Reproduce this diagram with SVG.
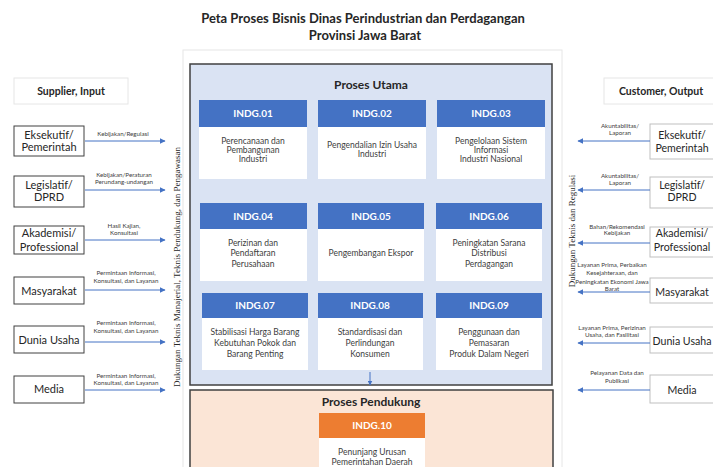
<svg xmlns="http://www.w3.org/2000/svg" width="713" height="467" viewBox="0 0 713 467">
<defs>
<marker id="ah" viewBox="0 0 10 10" refX="9" refY="5" markerWidth="6" markerHeight="6" markerUnits="userSpaceOnUse" orient="auto">
<path d="M0,0 L10,5 L0,10 z" fill="#4472c4"/>
</marker>
<marker id="ahs" viewBox="0 0 10 10" refX="9" refY="5" markerWidth="5" markerHeight="5" markerUnits="userSpaceOnUse" orient="auto">
<path d="M0,0 L10,5 L0,10 z" fill="#4472c4"/>
</marker>
</defs>
<style>
text{font-family:Lato,"Liberation Sans",sans-serif;text-anchor:middle}
.title{font-size:13px;font-weight:bold;fill:#262626}
.hdr{font-size:10.5px;font-weight:bold;fill:#262626}
.ptitle{font-size:12px;font-weight:bold;fill:#262626}
.code{font-size:10px;font-weight:bold;fill:#ffffff}
.body{font-size:8.5px;fill:#404040}
.ent{font-size:11px;fill:#262626}
.rent{font-size:10.6px;fill:#262626}
.lbl{font-size:6.2px;fill:#404040}
.vert{font-family:"Liberation Serif",serif;font-size:9px;fill:#262626}
.bhead{fill:#4472c4}
.obhead{fill:#ed7d31}
.bbody{fill:#ffffff}
.lbox{fill:#ffffff;stroke:#404040;stroke-width:1}
.rbox{fill:#ffffff;stroke:#bfbfbf;stroke-width:1}
.faint{fill:#ffffff;stroke:#e6e6e6;stroke-width:1}
.arr{stroke:#4472c4;stroke-width:1;fill:none;marker-end:url(#ah)}
</style>
<rect width="713" height="467" fill="#ffffff"/>
<text class="title" x="363" y="23">Peta Proses Bisnis Dinas Perindustrian dan Perdagangan</text>
<text class="title" x="365" y="40">Provinsi Jawa Barat</text>
<rect class="faint" x="183" y="50" width="379" height="430"/>
<g id="supplier-header"><rect class="faint" x="14" y="78" width="114" height="26"/><text class="hdr" x="71" y="95">Supplier, Input</text></g>
<g id="customer-header"><rect class="faint" x="604" y="78" width="116" height="26"/><text class="hdr" x="661" y="95">Customer, Output</text></g>
<g id="proses-utama">
<rect x="190" y="64" width="362" height="321" fill="#dae3f3" stroke="#404040" stroke-width="1.5"/>
<text class="ptitle" x="371" y="89">Proses Utama</text>
</g>
<g id="indg01"><rect class="bhead" x="199" y="100" width="108" height="27"/><rect class="bbody" x="199" y="127" width="108" height="52"/><text class="code" x="253" y="117">INDG.01</text><text class="body" x="253" y="144">Perencanaan dan</text><text class="body" x="253" y="153">Pembangunan</text><text class="body" x="253" y="162">Industri</text></g>
<g id="indg02"><rect class="bhead" x="318" y="100" width="108" height="27"/><rect class="bbody" x="318" y="127" width="108" height="52"/><text class="code" x="372" y="117">INDG.02</text><text class="body" x="372" y="148">Pengendalian Izin Usaha</text><text class="body" x="372" y="157">Industri</text></g>
<g id="indg03"><rect class="bhead" x="437" y="100" width="108" height="27"/><rect class="bbody" x="437" y="127" width="108" height="52"/><text class="code" x="491" y="117">INDG.03</text><text class="body" x="491" y="144">Pengelolaan Sistem</text><text class="body" x="491" y="153">Informasi</text><text class="body" x="491" y="162">Industri Nasional</text></g>
<g id="indg04"><rect class="bhead" x="200" y="203" width="107" height="26"/><rect class="bbody" x="200" y="229" width="107" height="52"/><text class="code" x="253" y="220">INDG.04</text><text class="body" x="253" y="246">Perizinan dan</text><text class="body" x="253" y="256">Pendaftaran</text><text class="body" x="253" y="267">Perusahaan</text></g>
<g id="indg05"><rect class="bhead" x="318" y="203" width="106" height="26"/><rect class="bbody" x="318" y="229" width="106" height="52"/><text class="code" x="371" y="220">INDG.05</text><text class="body" x="371" y="256">Pengembangan Ekspor</text></g>
<g id="indg06"><rect class="bhead" x="436" y="203" width="106" height="26"/><rect class="bbody" x="436" y="229" width="106" height="52"/><text class="code" x="489" y="220">INDG.06</text><text class="body" x="489" y="246">Peningkatan Sarana</text><text class="body" x="489" y="256">Distribusi</text><text class="body" x="489" y="267">Perdagangan</text></g>
<g id="indg07"><rect class="bhead" x="202" y="293" width="106" height="25"/><rect class="bbody" x="202" y="318" width="106" height="52"/><text class="code" x="255" y="309">INDG.07</text><text class="body" x="255" y="335">Stabilisasi Harga Barang</text><text class="body" x="255" y="346">Kebutuhan Pokok dan</text><text class="body" x="255" y="357">Barang Penting</text></g>
<g id="indg08"><rect class="bhead" x="318" y="293" width="105" height="25"/><rect class="bbody" x="318" y="318" width="105" height="52"/><text class="code" x="370" y="309">INDG.08</text><text class="body" x="370" y="335">Standardisasi dan</text><text class="body" x="370" y="346">Perlindungan</text><text class="body" x="370" y="357">Konsumen</text></g>
<g id="indg09"><rect class="bhead" x="436" y="293" width="106" height="25"/><rect class="bbody" x="436" y="318" width="106" height="52"/><text class="code" x="489" y="309">INDG.09</text><text class="body" x="489" y="335">Penggunaan dan</text><text class="body" x="489" y="346">Pemasaran</text><text class="body" x="489" y="357">Produk Dalam Negeri</text></g>
<g id="proses-pendukung">
<rect x="190" y="390" width="363" height="90" fill="#fbe5d6" stroke="#404040" stroke-width="1.5"/>
<text class="ptitle" x="371" y="406">Proses Pendukung</text>
</g>
<g id="indg10"><rect class="obhead" x="319" y="413" width="106" height="25"/><rect class="bbody" x="319" y="438" width="106" height="40"/><text class="code" x="372" y="429">INDG.10</text><text class="body" x="372" y="455">Penunjang Urusan</text><text class="body" x="372" y="465">Pemerintahan Daerah</text></g>
<g id="in-eksekutif"><rect class="lbox" x="14" y="126" width="70" height="30"/><text class="ent" x="49" y="139">Eksekutif/</text><text class="ent" x="49" y="151">Pemerintah</text></g>
<g id="in-legislatif"><rect class="lbox" x="14" y="176" width="70" height="31"/><text class="ent" x="49" y="189">Legislatif/</text><text class="ent" x="49" y="201">DPRD</text></g>
<g id="in-akademisi"><rect class="lbox" x="14" y="226" width="70" height="28"/><text class="ent" x="49" y="237">Akademisi/</text><text class="ent" x="49" y="251">Professional</text></g>
<g id="in-masyarakat"><rect class="lbox" x="14" y="277" width="70" height="27"/><text class="ent" x="49" y="295">Masyarakat</text></g>
<g id="in-dunia-usaha"><rect class="lbox" x="14" y="326" width="70" height="27"/><text class="ent" x="49" y="344">Dunia Usaha</text></g>
<g id="in-media"><rect class="lbox" x="14" y="376" width="70" height="27"/><text class="ent" x="49" y="393">Media</text></g>
<g id="out-eksekutif"><rect class="rbox" x="650" y="124" width="70" height="35"/><text class="rent" x="682" y="139">Eksekutif/</text><text class="rent" x="682" y="152">Pemerintah</text></g>
<g id="out-legislatif"><rect class="rbox" x="650" y="177" width="70" height="31"/><text class="rent" x="682" y="189">Legislatif/</text><text class="rent" x="682" y="201">DPRD</text></g>
<g id="out-akademisi"><rect class="rbox" x="650" y="227" width="70" height="30"/><text class="rent" x="682" y="237">Akademisi/</text><text class="rent" x="682" y="251">Professional</text></g>
<g id="out-masyarakat"><rect class="rbox" x="650" y="278" width="70" height="25"/><text class="rent" x="682" y="296">Masyarakat</text></g>
<g id="out-dunia-usaha"><rect class="rbox" x="650" y="327" width="70" height="26"/><text class="rent" x="682" y="345">Dunia Usaha</text></g>
<g id="out-media"><rect class="rbox" x="650" y="375" width="70" height="28"/><text class="rent" x="682" y="394">Media</text></g>
<g id="side-labels">
<text class="vert" transform="translate(180,267) rotate(-90)">Dukungan Teknis Manajerial, Teknis Pendukung, dan Pengawasan</text>
<text class="vert" transform="translate(575,231) rotate(-90)">Dukungan Teknis dan Regulasi</text>
</g>
<g id="connectors">
<line class="arr" x1="85" y1="141" x2="165" y2="141"/>
<line class="arr" x1="85" y1="190" x2="165" y2="190"/>
<line class="arr" x1="85" y1="240" x2="165" y2="240"/>
<line class="arr" x1="85" y1="290" x2="165" y2="290"/>
<line class="arr" x1="85" y1="342" x2="165" y2="342"/>
<line class="arr" x1="85" y1="390" x2="165" y2="390"/>
<line class="arr" x1="650" y1="141" x2="578" y2="141"/>
<line class="arr" x1="650" y1="190" x2="578" y2="190"/>
<line class="arr" x1="650" y1="243" x2="578" y2="243"/>
<line class="arr" x1="650" y1="292" x2="578" y2="292"/>
<line class="arr" x1="650" y1="343" x2="578" y2="343"/>
<line class="arr" x1="650" y1="390" x2="578" y2="390"/>
<line x1="370" y1="372" x2="370" y2="385" stroke="#4472c4" stroke-width="1" marker-end="url(#ahs)"/>
<text class="lbl" x="123" y="136">Kebijakan/Regulasi</text>
<text class="lbl" x="124" y="177">Kebijakan/Peraturan</text>
<text class="lbl" x="124" y="184">Perundang-undangan</text>
<text class="lbl" x="124" y="228">Hasil Kajian,</text>
<text class="lbl" x="124" y="235">Konsultasi</text>
<text class="lbl" x="126" y="275">Permintaan Informasi,</text>
<text class="lbl" x="126" y="283">Konsultasi, dan Layanan</text>
<text class="lbl" x="126" y="325">Permintaan Informasi,</text>
<text class="lbl" x="126" y="333">Konsultasi, dan Layanan</text>
<text class="lbl" x="126" y="378">Permintaan Informasi,</text>
<text class="lbl" x="126" y="385">Konsultasi, dan Layanan</text>
<text class="lbl" x="620" y="128">Akuntabilitas/</text>
<text class="lbl" x="620" y="135">Laporan</text>
<text class="lbl" x="620" y="178">Akuntabilitas/</text>
<text class="lbl" x="620" y="185">Laporan</text>
<text class="lbl" x="617" y="229">Bahan/Rekomendasi</text>
<text class="lbl" x="617" y="235">Kebijakan</text>
<text class="lbl" x="612" y="267">Layanan Prima, Perbaikan</text>
<text class="lbl" x="612" y="275">Kesejahteraan, dan</text>
<text class="lbl" x="612" y="284">Peningkatan Ekonomi Jawa</text>
<text class="lbl" x="612" y="291">Barat</text>
<text class="lbl" x="612" y="330">Layanan Prima, Perizinan</text>
<text class="lbl" x="612" y="337">Usaha, dan Fasilitasi</text>
<text class="lbl" x="617" y="375">Pelayanan Data dan</text>
<text class="lbl" x="617" y="383">Publikasi</text>
</g>
</svg>
